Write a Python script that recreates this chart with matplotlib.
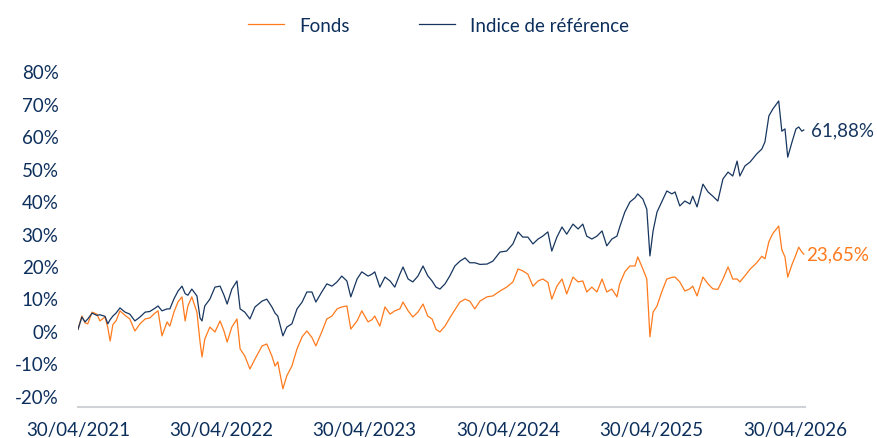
import matplotlib
matplotlib.use("Agg")
import matplotlib.pyplot as plt
import pandas as pd

# days since 30/04/2021
jours = [0, 10, 18, 25, 36, 48, 56, 69, 76, 82, 89, 97, 107, 120, 132, 145, 158, 171, 183, 196,
         204, 214, 227, 234, 245, 255, 265, 273, 280, 290, 303, 311, 316, 323, 336, 349, 362, 372, 380, 392,
         405, 413, 425, 438, 451, 469, 481, 494, 502, 509, 522, 532, 545, 558, 571, 583, 596, 606, 621, 634,
         647, 660, 672, 685, 695, 711, 723, 739, 749, 756, 769, 782, 795, 807, 820, 828, 841, 853, 866, 879,
         891, 902, 912, 922, 935, 947, 960, 973, 986, 998, 1011, 1024, 1042, 1057, 1075, 1092, 1108, 1121, 1133, 1146,
         1159, 1172, 1184, 1197, 1207, 1220, 1233, 1245, 1261, 1274, 1286, 1296, 1309, 1322, 1335, 1347, 1360, 1373, 1380, 1393,
         1406, 1419, 1426, 1439, 1449, 1457, 1465, 1475, 1487, 1500, 1513, 1521, 1533, 1546, 1559, 1566, 1577, 1592, 1605, 1617,
         1630, 1643, 1656, 1668, 1679, 1686, 1699, 1712, 1729, 1742, 1750, 1760, 1770, 1785, 1793, 1801, 1808, 1819, 1829, 1836,
         1844, 1849]

indice = [0.5, 4.3, 2.8, 3.7, 5.5, 4.8, 5.0, 4.5, 2.2, 3.5, 4.6, 5.5, 7.1, 5.8, 5.2, 3.1, 4.3, 5.8, 6.0, 7.0,
          7.7, 6.2, 6.8, 6.8, 10.0, 12.3, 13.8, 11.5, 11.0, 12.9, 10.8, 4.0, 3.1, 7.7, 9.8, 13.5, 13.8, 11.0, 8.3, 12.9,
          15.4, 6.8, 5.8, 3.7, 7.4, 9.2, 9.8, 7.4, 5.5, 4.6, -1.5, 1.2, 2.2, 6.8, 8.9, 12.0, 12.0, 8.9, 12.0, 14.5,
          13.8, 15.1, 16.9, 15.4, 10.5, 16.0, 18.2, 16.9, 17.5, 18.2, 13.5, 16.6, 15.4, 13.5, 17.5, 19.7, 16.0, 15.1, 16.9, 20.0,
          17.0, 15.4, 13.5, 12.9, 14.5, 16.9, 20.0, 21.5, 22.5, 21.0, 21.0, 20.5, 20.6, 21.5, 24.3, 24.6, 26.8, 30.5, 28.9, 28.9,
          26.8, 28.3, 29.2, 30.5, 24.6, 28.9, 32.0, 29.8, 32.9, 31.4, 32.9, 29.2, 28.3, 29.2, 30.8, 26.2, 28.3, 29.2, 32.0, 36.6,
          39.7, 41.0, 42.2, 40.6, 37.5, 23.1, 30.8, 36.6, 39.7, 43.1, 42.2, 42.8, 38.5, 40.0, 39.1, 41.5, 38.2, 45.2, 42.8, 41.5,
          40.0, 46.8, 48.9, 47.7, 52.3, 47.7, 50.8, 52.0, 54.5, 56.0, 58.2, 66.2, 68.3, 70.8, 61.5, 62.2, 53.5, 58.2, 62.2, 62.8,
          61.5, 61.88]

fonds = [0.5, 4.6, 2.5, 2.2, 5.8, 5.2, 3.1, 4.3, 1.0, -3.1, 2.0, 3.1, 6.2, 4.8, 3.7, 0.0, 2.2, 3.7, 4.0, 5.5,
         6.2, -1.5, 2.8, 1.5, 6.0, 9.0, 10.5, 3.1, 7.7, 10.5, 5.8, -3.4, -8.0, -2.5, 1.2, -0.3, 3.1, 0.0, -3.4, 1.2,
         3.7, -5.5, -7.7, -11.7, -8.6, -4.6, -4.0, -7.7, -10.8, -9.5, -17.8, -13.8, -10.8, -5.5, -1.8, 0.0, -2.0, -4.6, -0.3, 3.7,
         4.6, 6.8, 7.4, 7.7, 0.6, 3.1, 6.2, 2.8, 3.5, 4.6, 1.5, 7.4, 5.2, 6.2, 6.8, 8.9, 6.2, 4.3, 5.8, 8.3,
         4.6, 3.7, 0.5, -0.3, 1.5, 4.0, 6.5, 8.9, 9.8, 9.2, 6.8, 9.2, 10.5, 10.8, 12.3, 13.5, 15.1, 19.1, 18.5, 17.5,
         13.8, 15.4, 16.0, 15.0, 9.8, 13.8, 16.0, 11.4, 16.6, 15.1, 15.4, 12.0, 13.5, 12.0, 16.0, 12.0, 12.9, 10.5, 14.5, 18.2,
         20.0, 20.0, 22.8, 19.1, 16.0, -1.8, 5.8, 7.7, 12.0, 16.0, 16.5, 16.6, 15.1, 12.3, 13.0, 13.8, 10.8, 16.6, 14.5, 13.0,
         12.8, 16.0, 19.7, 16.0, 16.0, 15.1, 17.0, 19.0, 21.0, 23.0, 22.2, 27.5, 30.0, 32.3, 25.0, 22.8, 16.6, 20.5, 23.5, 25.8,
         24.3, 23.65]

tick_labels = ["30/04/2021", "30/04/2022", "30/04/2023", "30/04/2024", "30/04/2025", "30/04/2026"]
y_ticks = [-20, -10, 0, 10, 20, 30, 40, 50, 60, 70, 80]

navy = "#17365f"
orange = "#ff7a1c"
txt = "#0d2f5c"

plt.rcParams["font.family"] = ["Lato", "DejaVu Sans"]

start = pd.Timestamp("2021-04-30")
dates = start + pd.to_timedelta(jours, unit="D")

fig = plt.figure(figsize=(8.77, 4.39), dpi=100)
ax = fig.add_axes([0.0889, 0.0706, 0.829, 0.780])

ax.plot(dates, fonds, color=orange, linewidth=0.9, label="Fonds")
ax.plot(dates, indice, color=navy, linewidth=0.9, label="Indice de référence")

ax.set_ylim(-23.4, 82)
ax.set_xlim(start, start + pd.Timedelta(days=1852))

ax.set_yticks(y_ticks)
ax.set_yticklabels(["%d%%" % v for v in y_ticks])
ax.set_xticks([pd.Timestamp(l[6:] + "-04-30") for l in tick_labels])
ax.set_xticklabels(tick_labels)
ax.tick_params(axis="both", length=0, labelsize=13.5, colors=txt)
ax.tick_params(axis="y", pad=14)
ax.tick_params(axis="x", pad=10)

for s in ["top", "right", "left"]:
    ax.spines[s].set_visible(False)
ax.spines["bottom"].set_color("#cfd2d6")
ax.spines["bottom"].set_linewidth(1.5)

ax.annotate("61,88%", xy=(dates[-1], indice[-1]), xytext=(5, 0), textcoords="offset points",
            va="center", ha="left", fontsize=13.5, color=navy, annotation_clip=False)
ax.annotate("23,65%", xy=(dates[-1], fonds[-1]), xytext=(2, 0), textcoords="offset points",
            va="center", ha="left", fontsize=13.5, color=orange, annotation_clip=False)

fig.legend(loc="upper center", bbox_to_anchor=(0.5, 0.998), ncol=2, frameon=False,
           fontsize=13.5, handlelength=1.9, columnspacing=3.7, handletextpad=0.8,
           labelcolor=txt)

fig.savefig("out.png", dpi=100)
